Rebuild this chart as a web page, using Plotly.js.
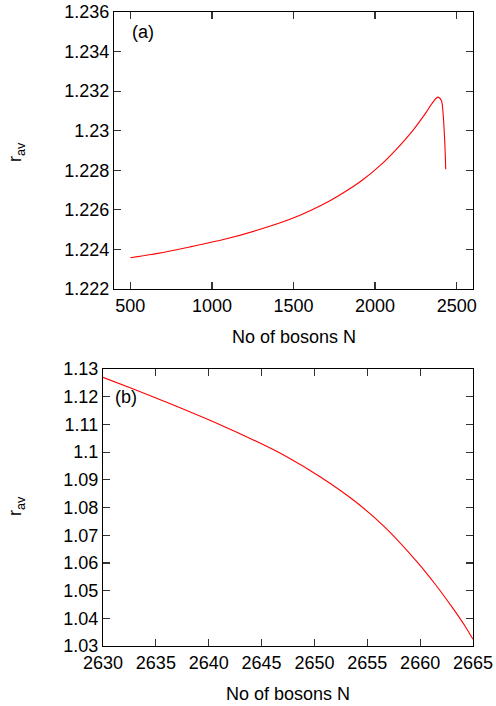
<!DOCTYPE html>
<html>
<head>
<meta charset="utf-8">
<script src="https://cdn.plot.ly/plotly-3.0.1.min.js"></script>
<style>html,body{margin:0;padding:0;background:#fff;}#chart{width:496px;height:706px;}</style>
</head>
<body>
<div id="chart"></div>
<script>
// Panel (a): average radius vs number of bosons
const nA = [500, 668, 872, 1077, 1281, 1502, 1721, 1823, 1925, 2028, 2130, 2232, 2314, 2355, 2385, 2406, 2416, 2426, 2433];
const rA = [1.22358, 1.2238, 1.22414, 1.22451, 1.22498, 1.2256, 1.22645, 1.22695, 1.22752, 1.22822, 1.22906, 1.23002, 1.23094, 1.23145, 1.2317, 1.23153, 1.23094, 1.2296, 1.22805];

// Panel (b)
const nB = [2630, 2632.87, 2636.02, 2641.07, 2644.22, 2647.38, 2650.53, 2653.68, 2656.68, 2659.83, 2661.41, 2662.99, 2664.24, 2665];
const rB = [1.1270, 1.12278, 1.11798, 1.10989, 1.1044, 1.09834, 1.09112, 1.08271, 1.07285, 1.05985, 1.05238, 1.04419, 1.03722, 1.03242];

const xTitle = 'No of bosons N';
const yTitle = 'r<sub>av</sub>';
const panelLabels = ['(a)', '(b)'];

const W = 496, H = 706;
const font = {family: 'Liberation Sans, Arial, Helvetica, sans-serif', size: 18, color: '#000'};

const axisCommon = {
  showline: true, linecolor: '#000', linewidth: 1.2, mirror: 'ticks',
  ticks: 'inside', ticklen: 7, tickwidth: 1.2, tickcolor: '#333',
  showgrid: false, zeroline: false, tickfont: font
};

const traces = [
  {x: nA, y: rA, type: 'scatter', mode: 'lines', line: {color: '#ff0000', width: 1.1, shape: 'spline', smoothing: 0.9}, xaxis: 'x', yaxis: 'y', hoverinfo: 'skip'},
  {x: nB, y: rB, type: 'scatter', mode: 'lines', line: {color: '#ff0000', width: 1.1, shape: 'spline', smoothing: 0.9}, xaxis: 'x2', yaxis: 'y2', hoverinfo: 'skip'}
];

const layout = {
  width: W, height: H,
  margin: {l: 0, r: 0, t: 0, b: 0},
  paper_bgcolor: '#fff', plot_bgcolor: '#fff',
  showlegend: false,
  font: font,
  xaxis: Object.assign({}, axisCommon, {domain: [114/W, 473/W], range: [400, 2600], tickmode: 'linear', tick0: 500, dtick: 500, anchor: 'y'}),
  yaxis: Object.assign({}, axisCommon, {domain: [1 - 289/H, 1 - 12/H], range: [1.222, 1.236], tickmode: 'linear', tick0: 1.222, dtick: 0.002, anchor: 'x'}),
  xaxis2: Object.assign({}, axisCommon, {domain: [103/W, 473/W], range: [2630, 2665], tickmode: 'linear', tick0: 2630, dtick: 5, anchor: 'y2'}),
  yaxis2: Object.assign({}, axisCommon, {domain: [1 - 646/H, 1 - 369/H], range: [1.03, 1.13], tickmode: 'linear', tick0: 1.03, dtick: 0.01, anchor: 'x2'}),
  annotations: [
    {text: xTitle, xref: 'paper', yref: 'paper', x: 293.5/W, y: 1 - 337/H, xanchor: 'center', yanchor: 'middle', showarrow: false, font: font},
    {text: xTitle, xref: 'paper', yref: 'paper', x: 288/W, y: 1 - 694/H, xanchor: 'center', yanchor: 'middle', showarrow: false, font: font},
    {text: yTitle, xref: 'paper', yref: 'paper', x: 16/W, y: 1 - 152/H, xanchor: 'center', yanchor: 'middle', textangle: -90, showarrow: false, font: font},
    {text: yTitle, xref: 'paper', yref: 'paper', x: 16/W, y: 1 - 506/H, xanchor: 'center', yanchor: 'middle', textangle: -90, showarrow: false, font: font},
    {text: panelLabels[0], xref: 'paper', yref: 'paper', x: 130/W, y: 1 - 32/H, xanchor: 'left', yanchor: 'middle', showarrow: false, font: font},
    {text: panelLabels[1], xref: 'paper', yref: 'paper', x: 113/W, y: 1 - 397/H, xanchor: 'left', yanchor: 'middle', showarrow: false, font: font}
  ]
};

Plotly.newPlot('chart', traces, layout, {staticPlot: true, displayModeBar: false});
</script>
</body>
</html>
